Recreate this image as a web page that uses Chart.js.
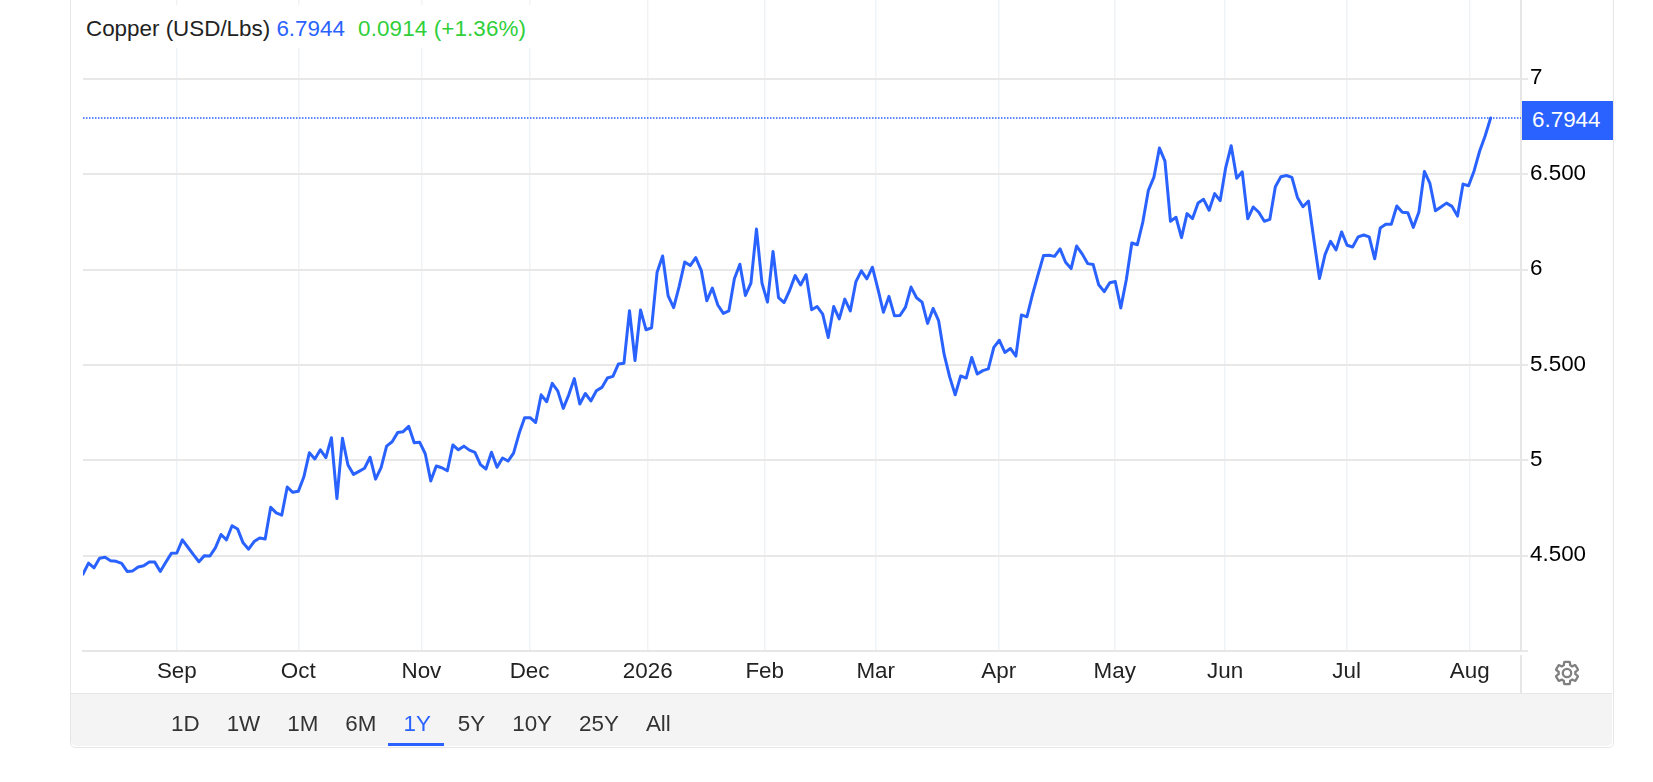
<!DOCTYPE html>
<html>
<head>
<meta charset="utf-8">
<title>Copper</title>
<script src="https://cdn.jsdelivr.net/npm/chart.js@4"></script>
<style>
  html, body { margin: 0; padding: 0; background: #fff; overflow: hidden; }
  body { width: 1653px; height: 782px; position: relative; font-family: "Liberation Sans", Arial, sans-serif; font-size: 22.4px; }
  canvas { position: absolute; left: 0; top: 0; }
  #frame { position: absolute; left: 70px; top: -4px; width: 1542px; height: 750px; border: 1.5px solid #e6e6e6; border-radius: 5px; }
  #band { position: absolute; left: 71px; top: 693px; width: 1541px; height: 53px; background: #f4f4f4; border-top: 1.5px solid #e6e6e6; box-sizing: border-box; border-radius: 0 0 5px 5px; }
  #ranges { position: absolute; left: 171px; top: 711px; color: #333; white-space: nowrap; line-height: 26px; }
  #ranges span { display: inline-block; margin-right: 27px; position: relative; }
  #ranges span.on { color: #2962ff; }
  #ranges span.on::after { content: ""; position: absolute; left: -15px; right: -13px; top: 32px; height: 3px; background: #2962ff; }
  #head { position: absolute; left: 83px; top: 5px; width: 448px; height: 43px; background: #fff; line-height: 48px; white-space: nowrap; color: #222; text-indent: 3px; }
  #head .px { color: #2962ff; }
  #head .ch { color: #2fcf3a; margin-left: 7px; letter-spacing: .12px; }
  #tag { position: absolute; left: 1522px; width: 91px; height: 39px; line-height: 38px; background: #2962ff; color: #fff; box-sizing: border-box; padding-left: 10px; }
  #stub { position: absolute; left: 1520px; top: 655px; width: 1.5px; height: 38px; background: #e6e6e6; }
  #gear { position: absolute; left: 1553px; top: 659px; }
</style>
</head>
<body>
<canvas id="copper" width="1653" height="782"></canvas>
<div id="frame"></div>
<div id="band"></div>
<div id="stub"></div>
<div id="ranges"></div>
<div id="head"></div>
<div id="tag"></div>
<svg id="gear" width="28" height="28" viewBox="0 0 24 24"><path fill="none" stroke="#808080" stroke-width="2" d="M19.14 12.94c.04-.3.06-.61.06-.94 0-.32-.02-.64-.07-.94l2.03-1.58c.18-.14.23-.41.12-.61l-1.92-3.32c-.12-.22-.37-.29-.59-.22l-2.39.96c-.5-.38-1.03-.7-1.62-.94l-.36-2.54c-.04-.24-.24-.41-.48-.41h-3.84c-.24 0-.43.17-.47.41l-.36 2.54c-.59.24-1.13.57-1.62.94l-2.39-.96c-.22-.08-.47 0-.59.22L2.74 8.87c-.12.21-.08.47.12.61l2.03 1.58c-.05.3-.09.63-.09.94s.02.64.07.94l-2.03 1.58c-.18.14-.23.41-.12.61l1.92 3.32c.12.22.37.29.59.22l2.39-.96c.5.38 1.03.7 1.62.94l.36 2.54c.05.24.24.41.48.41h3.84c.24 0 .44-.17.47-.41l.36-2.54c.59-.24 1.13-.56 1.62-.94l2.39.96c.22.08.47 0 .59-.22l1.92-3.32c.12-.22.07-.47-.12-.61l-2.01-1.58zM12 15.6c-1.98 0-3.6-1.62-3.6-3.6s1.62-3.6 3.6-3.6 3.6 1.62 3.6 3.6-1.62 3.6-3.6 3.6z"/></svg>
<script>
// daily closes, oldest first
const prices = [
  4.403,4.461,4.436,4.486,4.491,4.473,4.470,4.459,4.417,4.420,4.440,4.447,4.466,4.466,4.417,4.465,4.512,4.514,4.583,4.544,
  4.505,4.468,4.500,4.498,4.542,4.611,4.583,4.657,4.640,4.567,4.534,4.574,4.592,4.587,4.754,4.724,4.712,4.860,4.832,4.837,
  4.912,5.039,5.007,5.055,5.014,5.118,4.799,5.115,4.975,4.926,4.942,4.958,5.016,4.901,4.961,5.074,5.097,5.145,5.150,5.178,
  5.092,5.094,5.034,4.892,4.970,4.961,4.945,5.080,5.055,5.074,5.053,5.041,4.977,4.954,5.042,4.963,5.012,4.996,5.037,5.140,
  5.223,5.223,5.198,5.343,5.307,5.403,5.364,5.272,5.343,5.428,5.295,5.350,5.311,5.364,5.382,5.431,5.440,5.505,5.509,5.784,
  5.523,5.788,5.684,5.694,5.986,6.071,5.862,5.800,5.912,6.039,6.021,6.062,5.996,5.836,5.903,5.814,5.770,5.783,5.952,6.028,
  5.864,5.929,6.212,5.929,5.829,6.095,5.853,5.827,5.890,5.968,5.919,5.974,5.789,5.806,5.766,5.644,5.806,5.741,5.845,5.783,
  5.935,5.993,5.951,6.012,5.898,5.776,5.859,5.757,5.759,5.803,5.908,5.852,5.829,5.717,5.796,5.732,5.555,5.437,5.343,5.442,
  5.431,5.539,5.452,5.470,5.479,5.592,5.629,5.565,5.586,5.546,5.762,5.752,5.868,5.972,6.073,6.075,6.069,6.108,6.038,6.005,
  6.123,6.082,6.031,6.026,5.920,5.884,5.931,5.937,5.799,5.946,6.139,6.130,6.250,6.415,6.484,6.637,6.568,6.253,6.274,6.167,
  6.293,6.267,6.349,6.368,6.311,6.398,6.361,6.533,6.649,6.479,6.512,6.266,6.328,6.300,6.253,6.263,6.434,6.486,6.493,6.483,
  6.378,6.329,6.359,6.152,5.953,6.078,6.148,6.103,6.197,6.127,6.118,6.171,6.181,6.171,6.056,6.218,6.237,6.237,6.333,6.300,
  6.298,6.221,6.301,6.514,6.451,6.308,6.328,6.348,6.331,6.280,6.448,6.439,6.517,6.620,6.700,6.7944
];
const monthLabels = ['Sep','Oct','Nov','Dec','2026','Feb','Mar','Apr','May','Jun','Jul','Aug'];
const monthPositions = [17, 39, 61.3, 80.9, 102.3, 123.5, 143.6, 165.9, 186.9, 206.9, 228.9, 251.2];
const yTicks = [4, 4.5, 5, 5.5, 6, 6.5, 7];
const yTickLabels = ['', '4.500', '5', '5.500', '6', '6.500', '7'];
const rangeLabels = ['1D','1W','1M','6M','1Y','5Y','10Y','25Y','All'];
const activeRange = '1Y';
const lastPrice = '6.7944';
const change = '0.0914';
const changePct = '(+1.36%)';
const seriesName = 'Copper (USD/Lbs)';

const xMax = 260.5;
const blue = '#2962ff';
const font = { family: '"Liberation Sans", Arial, sans-serif', size: 22.4 };

Chart.defaults.animation = false;

const chart = new Chart(document.getElementById('copper').getContext('2d'), {
  type: 'line',
  data: {
    datasets: [
      {
        label: seriesName,
        data: prices.map((p, i) => ({ x: i, y: p })),
        borderColor: blue,
        borderWidth: 3,
        borderJoinStyle: 'round',
        borderCapStyle: 'round',
        pointRadius: 0,
        tension: 0,
        order: 1
      },
      {
        label: 'last',
        data: [{ x: 0, y: +lastPrice }, { x: xMax, y: +lastPrice }],
        borderColor: blue,
        borderWidth: 1.5,
        borderDash: [1.5, 1.5],
        pointRadius: 0,
        order: 2
      }
    ]
  },
  options: {
    responsive: false,
    devicePixelRatio: 1,
    layout: { padding: { left: 83, right: 0, top: 0, bottom: 0 } },
    plugins: { legend: { display: false }, tooltip: { enabled: false } },
    scales: {
      x: {
        type: 'linear',
        min: 0,
        max: xMax,
        afterBuildTicks: s => { s.ticks = monthPositions.map(v => ({ value: v })); },
        afterFit: s => { s.height = 131; s.paddingLeft = 0; s.paddingRight = 0; },
        ticks: {
          autoSkip: false,
          maxRotation: 0,
          padding: 7,
          color: '#222',
          font: font,
          callback: (v, i) => monthLabels[i]
        },
        grid: { color: '#eff3f6', lineWidth: 1.5, drawTicks: false },
        border: { color: '#e6e6e6', width: 2 }
      },
      y: {
        type: 'linear',
        position: 'right',
        min: 4,
        max: 7.413,
        afterBuildTicks: s => { s.ticks = yTicks.map(v => ({ value: v })); },
        afterFit: s => { s.width = 132; s.paddingTop = 0; s.paddingBottom = 0; },
        ticks: {
          autoSkip: false,
          crossAlign: 'near',
          padding: 2,
          labelOffset: -0.5,
          color: '#000',
          font: font,
          callback: (v, i) => yTickLabels[i]
        },
        grid: { color: '#e8e8e8', lineWidth: 2, tickLength: 7, tickColor: '#e8e8e8' },
        border: { color: '#e6e6e6', width: 2 }
      }
    }
  }
});

// header, price tag and range strip are plain page text
document.getElementById('head').innerHTML =
  seriesName + ' <span class="px">' + lastPrice + '</span> <span class="ch">' + change + ' ' + changePct + '</span>';
const tag = document.getElementById('tag');
tag.textContent = lastPrice;
tag.style.top = (chart.scales.y.getPixelForValue(+lastPrice) - 17) + 'px';
document.getElementById('ranges').innerHTML = rangeLabels
  .map(r => '<span' + (r === activeRange ? ' class="on"' : '') + '>' + r + '</span>')
  .join('');
</script>
</body>
</html>
